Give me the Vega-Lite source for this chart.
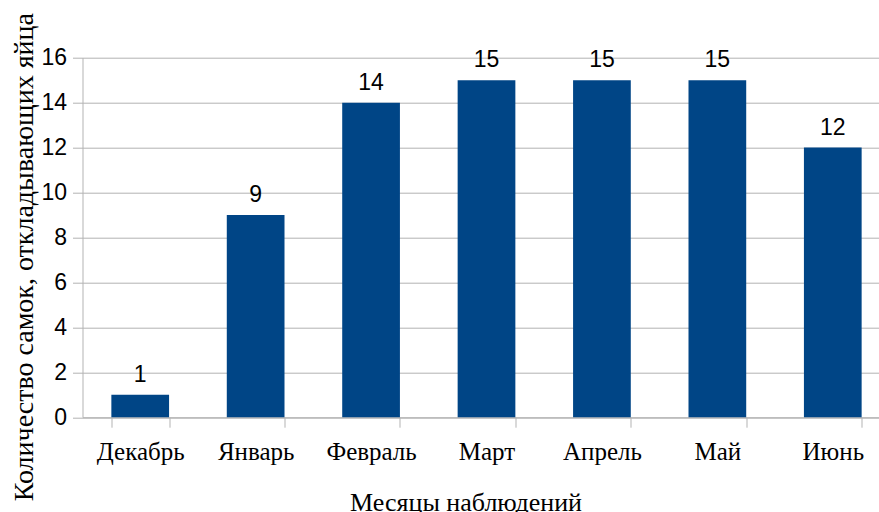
{
  "$schema": "https://vega.github.io/schema/vega-lite/v6.json",
  "autosize": "none",
  "width": 796.5,
  "height": 359.5,
  "padding": {"left": 82.5, "top": 57.7, "right": 0, "bottom": 94.8},
  "background": "white",
  "data": {"values": [
    {"month": "Декабрь", "count": 1},
    {"month": "Январь", "count": 9},
    {"month": "Февраль", "count": 14},
    {"month": "Март", "count": 15},
    {"month": "Апрель", "count": 15},
    {"month": "Май", "count": 15},
    {"month": "Июнь", "count": 12}
  ]},
  "config": {"view": {"stroke": null}},
  "encoding": {
    "x": {"field": "month", "type": "nominal", "sort": null,
      "scale": {"paddingInner": 0.5, "paddingOuter": 0.25, "range": [0, 808]},
      "axis": {"title": "Месяцы наблюдений", "labelAngle": 0, "labelFont": "Liberation Serif", "labelFontSize": 25, "labelColor": "black", "labelBaseline": "alphabetic", "labelPadding": 32,
        "tickBand": "extent", "tickSize": 10, "tickColor": "#b3b3b3", "domainColor": "#b3b3b3",
        "titleFont": "Liberation Serif", "titleFontSize": 26, "titleFontWeight": "normal", "titleColor": "black", "titleX": 383, "titleY": 93, "titleBaseline": "alphabetic"}},
    "y": {"field": "count", "type": "quantitative",
      "scale": {"domain": [0, 16]},
      "axis": {"title": "Количество самок, откладывающих яйца", "values": [0,2,4,6,8,10,12,14,16], "labelFont": "Liberation Sans", "labelFontSize": 23, "labelColor": "black", "labelPadding": 6,
        "tickSize": 10, "tickColor": "#b3b3b3", "domainColor": "#b3b3b3", "gridColor": "#b3b3b3", "grid": true,
        "titleFont": "Liberation Serif", "titleFontSize": 28, "titleFontWeight": "normal", "titleColor": "black", "titleX": -50, "titleY": 199, "titleBaseline": "alphabetic", "titleAngle": -90, "titleAlign": "center"}}
  },
  "layer": [
    {"mark": {"type": "bar", "color": "#004586"}},
    {"mark": {"type": "text", "font": "Liberation Sans", "fontSize": 23, "baseline": "alphabetic", "dy": -13, "color": "black"},
     "encoding": {"text": {"field": "count"}}}
  ]
}
